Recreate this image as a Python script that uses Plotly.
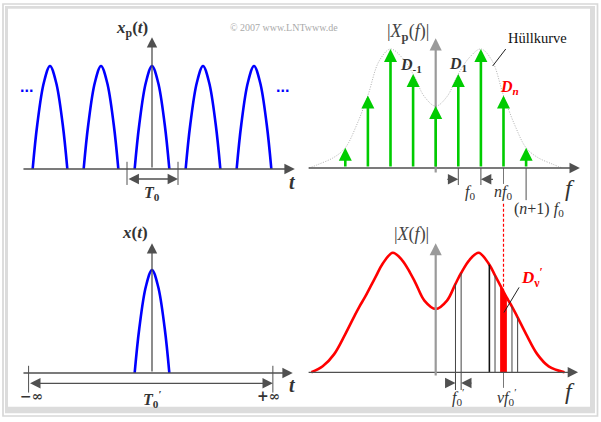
import plotly.graph_objects as go

W, H = 601, 422
SERIF = "Liberation Serif"
TXT = "#333333"
AX = "#505050"

# ---------------- data ----------------
PULSE_CENTERS = [-2, -1, 0, 1, 2]            # multiples of T0
PULSE_T = [-0.34, -0.25, -0.12, 0.0, 0.12, 0.25, 0.34]
PULSE_X = [0.0, 0.43, 0.84, 1.0, 0.84, 0.43, 0.0]

LINE_N = [-4, -3, -2, -1, 0, 1, 2, 3, 4]     # multiples of f0
LINE_D = [0.17, 0.61, 1.0, 0.79, 0.52, 0.79, 1.0, 0.61, 0.17]

ENV_F = [-5.6, -5.2, -4.5, -4, -3.5, -3, -2.5, -2, -1.5, -1, -0.5, 0,
         0.5, 1, 1.5, 2, 2.5, 3, 3.5, 4, 4.5, 5.2, 5.6]
ENV_D = [0.0, 0.03, 0.09, 0.17, 0.36, 0.61, 0.9, 1.0, 0.93, 0.79, 0.6, 0.52,
         0.6, 0.79, 0.93, 1.0, 0.9, 0.61, 0.36, 0.17, 0.09, 0.03, 0.0]

BOT_F = [-5.5, -5.0, -4.5, -4.0, -3.625, -3.375, -3.125, -2.875, -2.625, -2.375,
         -1.9, -1.5, -1.125, -0.875, -0.5, 0.0, 0.5, 0.875, 1.125, 1.5, 1.9,
         2.375, 2.625, 2.875, 3.125, 3.375, 3.625, 4.0, 4.5, 5.0, 5.7]
BOT_X = [0.0, 0.05, 0.15, 0.32, 0.46, 0.55, 0.63, 0.72, 0.81, 0.90,
         1.0, 0.94, 0.83, 0.74, 0.60, 0.53, 0.60, 0.74, 0.83, 0.94, 1.0,
         0.90, 0.81, 0.72, 0.63, 0.55, 0.46, 0.32, 0.15, 0.05, 0.0]
BIN_EDGES = [0.875, 1.125, 2.375, 2.625, 3.375, 3.625]   # multiples of f0 (f0' = f0/4)
BAR_EDGES = [2.875, 3.125]
NU_F = 3.0
N_F = 3

fig = go.Figure()

# ---------------- panels (pixel boxes -> axis ranges) ----------------
def panel(idx, box, origin, scale):
    x0, y0, x1, y1 = box
    ox, oy = origin
    sx, sy = scale
    s = "" if idx == 1 else str(idx)
    fig.layout["xaxis" + s] = dict(domain=[x0 / W, x1 / W],
                                   range=[(x0 - ox) / sx, (x1 - ox) / sx],
                                   visible=False, anchor="y" + s, fixedrange=True)
    fig.layout["yaxis" + s] = dict(domain=[1 - y1 / H, 1 - y0 / H],
                                   range=[(oy - y1) / sy, (oy - y0) / sy],
                                   visible=False, anchor="x" + s, fixedrange=True)
    return "x" + s, "y" + s

TL = panel(1, (8, 8, 300, 210), (152, 169), (51, 103))
BL = panel(2, (8, 210, 300, 412), (152, 373), (51, 103))
TR = panel(3, (300, 8, 595, 230), (435.7, 168), (22.6, 119))
BR = panel(4, (300, 190, 595, 412), (435.7, 372.3), (22.6, 119.6))

def arrow(p, xt, yt, xh, yh, color=AX, width=1.3, size=1.6, head=2, both=False):
    fig.add_annotation(xref=p[0], yref=p[1], axref=p[0], ayref=p[1],
                       x=xh, y=yh, ax=xt, ay=yt, text="", showarrow=True,
                       arrowhead=head, arrowsize=size, arrowwidth=width,
                       arrowcolor=color, standoff=0, startstandoff=0,
                       arrowside="end+start" if both else "end",
                       startarrowhead=head, startarrowsize=size)

def line(p, x0, y0, x1, y1, color=AX, width=1.0, dash=None):
    fig.add_shape(type="line", xref=p[0], yref=p[1], x0=x0, y0=y0, x1=x1, y1=y1,
                  line=dict(color=color, width=width, dash=dash))

def txt(p, x, y, text, size=16, color=TXT, xanchor="center", family=SERIF):
    fig.add_annotation(xref=p[0], yref=p[1], x=x, y=y, text=text, showarrow=False,
                       xanchor=xanchor, yanchor="middle",
                       font=dict(family=family, size=size, color=color))

# ---------------- top-left: periodic signal ----------------
for c in PULSE_CENTERS:
    fig.add_trace(go.Scatter(x=[c + t for t in PULSE_T], y=PULSE_X, xaxis=TL[0], yaxis=TL[1],
                             mode="lines", line=dict(color="#0000ff", width=2.6, shape="spline"),
                             cliponaxis=False, hoverinfo="skip"))
arrow(TL, -2.55, 0, 2.80, 0)
arrow(TL, 0, 0, 0, 1.28)
line(TL, -0.49, 0.07, -0.49, -0.155)
line(TL, 0.51, 0.07, 0.51, -0.155)
arrow(TL, -0.49, -0.097, 0.51, -0.097, both=True)
txt(TL, -0.03, 1.36, "<b><i>x</i><sub>p</sub>(<i>t</i>)</b>", 17, xanchor="right")
txt(TL, 0, -0.235, "<b><i>T</i><sub>0</sub></b>", 16)
txt(TL, 2.76, -0.13, "<b><i>t</i></b>", 20)
txt(TL, -2.47, 0.80, "<b>...</b>", 16, "#0000ff", family="Liberation Sans")
txt(TL, 2.55, 0.80, "<b>...</b>", 16, "#0000ff", family="Liberation Sans")

# ---------------- bottom-left: single pulse ----------------
fig.add_trace(go.Scatter(x=PULSE_T, y=PULSE_X, xaxis=BL[0], yaxis=BL[1], mode="lines",
                         line=dict(color="#0000ff", width=2.6, shape="spline"),
                         cliponaxis=False, hoverinfo="skip"))
arrow(BL, -2.55, 0, 2.76, 0)
arrow(BL, 0, 0, 0, 1.26)
line(BL, -2.42, 0.07, -2.42, -0.19)
line(BL, 2.37, 0.07, 2.37, -0.19)
arrow(BL, -2.42, -0.10, 2.37, -0.10, both=True)
txt(BL, -0.03, 1.36, "<b><i>x</i>(<i>t</i>)</b>", 17, xanchor="right")
txt(BL, 0, -0.25, "<b><i>T</i><sub>0</sub><sup>′</sup></b>", 16)
txt(BL, -2.37, -0.225, "<b>−∞</b>", 14, family="DejaVu Serif")
txt(BL, 2.29, -0.225, "<b>+∞</b>", 14, family="DejaVu Serif")
txt(BL, 2.76, -0.12, "<b><i>t</i></b>", 20)

# ---------------- top-right: line spectrum ----------------
fig.add_trace(go.Scatter(x=ENV_F, y=ENV_D, xaxis=TR[0], yaxis=TR[1], mode="lines",
                         line=dict(color="#b0b0b0", width=1, dash="1px,1.5px", shape="spline"),
                         cliponaxis=False, hoverinfo="skip"))
arrow(TR, -5.69, 0, 6.38, 0)
arrow(TR, 0, -0.05, 0, 1.09, color="#9a9a9a", width=2.2, size=1.1)
for n, d in zip(LINE_N, LINE_D):
    arrow(TR, n, 0, n, d, color="#00cc00", width=2.6, size=1.0)
line(TR, 1, 0, 1, -0.143)
line(TR, 2, 0, 2, -0.143)
arrow(TR, 0.45, -0.095, 1, -0.095)
arrow(TR, 2.6, -0.095, 2, -0.095)
line(TR, N_F, 0, N_F, -0.134, color="#777777")
line(TR, N_F + 1, 0, N_F + 1, -0.27)
line(TR, 3.10, 1.0, 2.52, 0.857, color="#222222")
txt(TR, -0.22, 1.14, "|<i>X</i><sub><b>p</b></sub>(<i>f</i>)|", 18, "#444444", xanchor="right")
txt(TR, -1.09, 0.86, "<b><i>D</i><sub>-1</sub></b>", 16)
txt(TR, 0.99, 0.87, "<b><i>D</i><sub>1</sub></b>", 16)
txt(TR, 3.25, 0.68, "<b><i>D<sub>n</sub></i></b>", 16, "#ff0000")
txt(TR, 4.50, 1.09, "Hüllkurve", 14.5, "#111111")
txt(TR, 1.52, -0.205, "<i>f</i><sub>0</sub>", 16)
txt(TR, 2.98, -0.205, "<i>nf</i><sub>0</sub>", 16)
txt(TR, 4.57, -0.35, "(<i>n</i>+1) <i>f</i><sub>0</sub>", 16)
txt(TR, 5.95, -0.17, "<i>f</i>", 24)

# ---------------- bottom-right: continuous spectrum ----------------
hmap = dict(zip(BOT_F, BOT_X))
fig.add_trace(go.Scatter(x=[BAR_EDGES[0], BAR_EDGES[0], BAR_EDGES[1], BAR_EDGES[1]],
                         y=[0, hmap[BAR_EDGES[0]], hmap[BAR_EDGES[1]], 0],
                         xaxis=BR[0], yaxis=BR[1], mode="lines", fill="toself",
                         fillcolor="#ff0000", line=dict(color="#ff0000", width=1),
                         cliponaxis=False, hoverinfo="skip"))
for f in BIN_EDGES:
    lo = -0.148 if f < 2 else 0
    line(BR, f, lo, f, hmap[f], color="#111111" if f == 2.375 else "#444444",
         width=1.6 if f == 2.375 else 1.0)
fig.add_trace(go.Scatter(x=BOT_F, y=BOT_X, xaxis=BR[0], yaxis=BR[1], mode="lines",
                         line=dict(color="#ff0000", width=2.6, shape="spline"),
                         cliponaxis=False, hoverinfo="skip"))
arrow(BR, -5.69, 0, 6.30, 0)
arrow(BR, 0, -0.04, 0, 1.08, color="#9a9a9a", width=2.2, size=1.1)
arrow(BR, 0.41, -0.09, 0.875, -0.09)
arrow(BR, 1.65, -0.09, 1.125, -0.09)
line(BR, NU_F, 0, NU_F, -0.13, color="#777777")
line(BR, NU_F, 1.41, NU_F, 0.68, color="#ff0000", width=1.2, dash="3px,2px")
line(BR, 3.69, 0.71, 3.02, 0.50, color="#222222")
txt(BR, -0.22, 1.15, "|<i>X</i>(<i>f</i>)|", 18, "#444444", xanchor="right")
txt(BR, 1.03, -0.205, "<i>f</i><sub>0</sub><sup>′</sup>", 16)
txt(BR, 3.15, -0.205, "<i>νf</i><sub>0</sub><sup>′</sup>", 16)
txt(BR, 4.25, 0.79, "<b><i>D</i><sub>ν</sub><sup>′</sup></b>", 17, "#ff0000")
txt(BR, 5.95, -0.16, "<i>f</i>", 24)

# ---------------- frame & copyright ----------------
def prect(x0, y0, x1, y1, **kw):
    fig.add_shape(type="rect", xref="paper", yref="paper", layer="below",
                  x0=x0 / W, x1=x1 / W, y0=1 - y1 / H, y1=1 - y0 / H, **kw)

prect(5, 6, 595, 413.3, fillcolor="#dcdcdc", line=dict(width=0))
prect(8, 8.7, 590, 406.7, fillcolor="#ffffff", line=dict(width=0))
prect(3, 4, 597.5, 416, line=dict(color="#d8d8d8", width=1.7))

fig.add_annotation(xref="paper", yref="paper", x=284 / W, y=1 - 20 / H,
                   text="© 2007 www.LNTwww.de", showarrow=False,
                   font=dict(family=SERIF, size=10, color="#aaaaaa"))

fig.update_layout(width=W, height=H, margin=dict(l=0, r=0, t=0, b=0),
                  paper_bgcolor="white", plot_bgcolor="rgba(0,0,0,0)", showlegend=False)
fig.write_html("out.html", config={"displayModeBar": False},
               post_script="document.body.style.margin='0';document.body.style.overflow='hidden';")
